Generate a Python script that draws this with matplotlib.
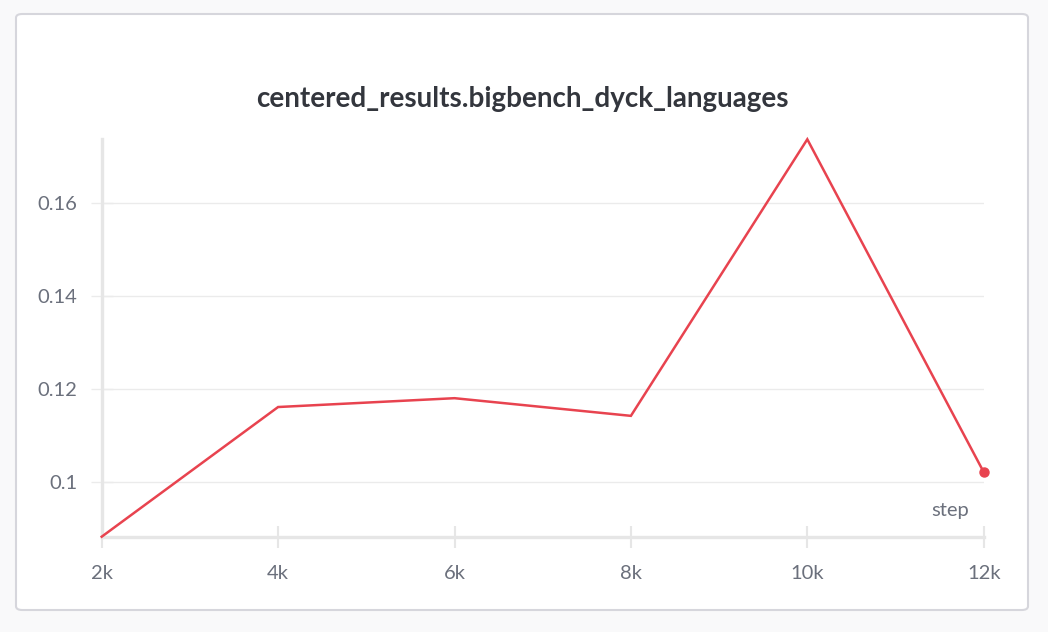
import matplotlib
matplotlib.use("Agg")
import matplotlib.pyplot as plt
from matplotlib.patches import FancyBboxPatch

steps = [2000, 4000, 6000, 8000, 10000, 12000]
values = [0.0882, 0.1161, 0.1180, 0.1142, 0.1737, 0.1021]
xtick_vals = [2000, 4000, 6000, 8000, 10000, 12000]
xtick_labels = ["2k", "4k", "6k", "8k", "10k", "12k"]
ytick_vals = [0.10, 0.12, 0.14, 0.16]
ytick_labels = ["0.1", "0.12", "0.14", "0.16"]
title = "centered_results.bigbench_dyck_languages"

plt.rcParams['font.family'] = ['Lato', 'DejaVu Sans']
W, H = 1048, 632
fig = plt.figure(figsize=(W/100, H/100), dpi=100, facecolor='#f9f9fa')

panel = FancyBboxPatch((16/W, (H-610)/H), (1028-16)/W, (610-14)/H,
                       boxstyle="round,pad=0,rounding_size=0.006",
                       transform=fig.transFigure, facecolor='white',
                       edgecolor='#d6d6dc', linewidth=1.5, zorder=-10)
fig.patches.append(panel)

left, right, top, bottom = 101.7, 983.7, 139.3, 536.7
ax = fig.add_axes([left/W, 1-bottom/H, (right-left)/W, (bottom-top)/H])
ax.set_zorder(5)
ax.set_facecolor('none')
line_color = '#e8434f'
ax.plot(steps, values, color=line_color, linewidth=1.8, solid_joinstyle='miter', clip_on=False, zorder=3)
ax.plot([steps[-1]], [values[-1]], 'o', color=line_color, markersize=6.5, clip_on=False, zorder=4)

ax.set_xlim(steps[0], steps[-1])
ax.set_ylim(min(values), max(values))
ax.set_xticks(xtick_vals)
ax.set_xticklabels(xtick_labels)
ax.set_yticks(ytick_vals)
ax.set_yticklabels(ytick_labels)

grid_c = '#e6e6e6'
ax.grid(axis='y', color='#ebebeb', linewidth=1.0)
ax.set_axisbelow(True)
for s in ['top', 'right']:
    ax.spines[s].set_visible(False)
for s in ['left', 'bottom']:
    ax.spines[s].set_color(grid_c)
    ax.spines[s].set_linewidth(2.4)
ax.tick_params(axis='x', direction='inout', length=16.5, width=1.5, color=grid_c,
               labelcolor='#6b707c', labelsize=14.5, pad=12)
ax.tick_params(axis='y', direction='inout', length=16.5, width=1.0, color='#ebebeb',
               labelcolor='#6b707c', labelsize=14.5, pad=9)

ax.text(0.983, 0.045, 'step', transform=ax.transAxes, ha='right', va='bottom',
        color='#6b707c', fontsize=14.5)

fig.text(522/W, 1-99/H, title, ha='center', va='center', fontsize=20,
         fontweight='bold', color='#33363d')

fig.savefig('out.png', dpi=100, facecolor=fig.get_facecolor())
